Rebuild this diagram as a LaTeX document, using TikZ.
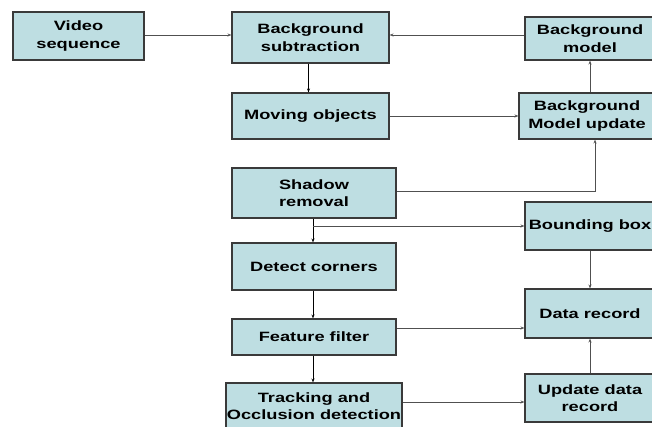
\documentclass[tikz,border=0pt]{standalone}
\usepackage{fontspec}
\newfontfamily\boxfont[FakeStretch=1.35]{Liberation Sans}
\usetikzlibrary{arrows.meta}

\definecolor{boxfill}{RGB}{190,222,226}
\definecolor{boxline}{RGB}{58,58,58}
\definecolor{linkgray}{RGB}{80,80,80}

\begin{document}
\begin{tikzpicture}[
    x=1pt, y=-1pt,
    box/.style={draw=boxline, fill=boxfill, line width=1.1pt, align=center, inner sep=0pt,
        font=\boxfont\bfseries\fontsize{13.5}{17.5}\selectfont},
    arrow/.style={-{Stealth[length=4pt, width=3pt]}, draw=linkgray, line width=0.8pt},
    mainarrow/.style={arrow, draw=black, line width=1pt}
]
    \useasboundingbox (0,0) rectangle (652,426);
    \clip (0,0) rectangle (652,426);

    % left column
    \node[box, minimum width=131pt, minimum height=48pt] (video) at (78.5,36) {Video\\sequence};
    \node[box, minimum width=157pt, minimum height=51pt] (bgsub) at (310.5,37.5) {Background\\subtraction};
    \node[box, minimum width=157pt, minimum height=46pt] (moving) at (310.5,116) {Moving objects};
    \node[box, minimum width=164pt, minimum height=50pt] (shadow) at (314,193) {Shadow\\removal};
    \node[box, minimum width=164pt, minimum height=47pt] (corners) at (314,266.5) {Detect corners};
    \node[box, minimum width=164pt, minimum height=36pt] (filter) at (314,337) {Feature filter};
    \node[box, minimum width=176pt, minimum height=46pt] (tracking) at (314,406) {Tracking and\\Occlusion detection};

    % right column
    \node[box, minimum width=130pt, minimum height=43pt] (bgmodel) at (590,38.5) {Background\\model};
    \node[box, minimum width=136pt, minimum height=46pt] (bgupdate) at (587,116) {Background\\Model update};
    \node[box, minimum width=130pt, minimum height=48pt] (bbox) at (590,226) {Bounding box};
    \node[box, minimum width=130pt, minimum height=49pt] (datarec) at (590,313.5) {Data record};
    \node[box, minimum width=130pt, minimum height=48pt] (update) at (590,398) {Update data\\record};

    % links
    \draw[arrow] (video.east |- 0,35) -- (bgsub.west |- 0,35);
    \draw[arrow] (bgmodel.west |- 0,35) -- (bgsub.east |- 0,35);
    \draw[mainarrow] ([xshift=-2pt]bgsub.south) -- ([xshift=-2pt]moving.north);
    \draw[arrow] (moving.east) -- (bgupdate.west);
    \draw[arrow] (bgupdate.north -| bgmodel.south) -- (bgmodel.south);
    \draw[arrow] ([yshift=2pt]shadow.east) -| ([xshift=8pt]bgupdate.south);
    \draw[mainarrow] ([xshift=-1pt]shadow.south) -- ([xshift=-1pt]corners.north);
    \draw[arrow] ([xshift=-1pt]shadow.south |- bbox.west) -- (bbox.west);
    \draw[arrow] (bbox.south) -- (datarec.north);
    \draw[mainarrow] ([xshift=-1pt]corners.south) -- ([xshift=-1pt]filter.north);
    \draw[arrow] ([yshift=9pt]filter.east) -- ([yshift=9pt]filter.east -| datarec.west);
    \draw[mainarrow] ([xshift=-1pt]filter.south) -- ([xshift=-1pt]tracking.north);
    \draw[arrow] ([yshift=4pt]tracking.east) -- ([yshift=4pt]tracking.east -| update.west);
    \draw[arrow] (update.north) -- (datarec.south);
\end{tikzpicture}
\end{document}
